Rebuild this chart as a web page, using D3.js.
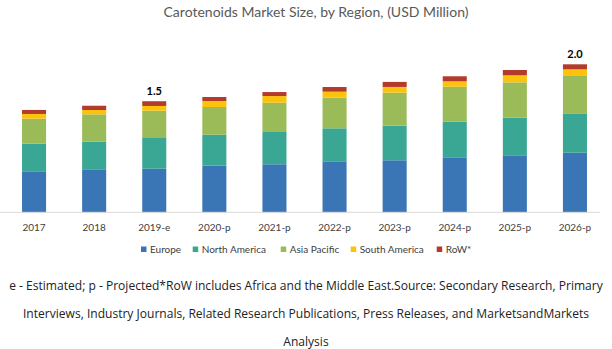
<!DOCTYPE html>
<html><head><meta charset="utf-8">
<script src="https://cdn.jsdelivr.net/npm/d3@7"></script>
<style>body{margin:0;background:#fff}svg{display:block}</style>
</head><body><svg id="c" width="612" height="349"></svg>
<script>
const categories = ["2017","2018","2019-e","2020-p","2021-p","2022-p","2023-p","2024-p","2025-p","2026-p"];
const seriesNames = ["Europe","North America","Asia Pacific","South America","RoW*"];
const europe       = [0.554,0.581,0.589,0.630,0.649,0.689,0.703,0.743,0.770,0.805];
const northAmerica = [0.373,0.373,0.415,0.419,0.446,0.446,0.468,0.481,0.508,0.532];
const asiaPacific  = [0.338,0.370,0.369,0.374,0.386,0.414,0.446,0.473,0.478,0.514];
const southAmerica = [0.064,0.058,0.064,0.081,0.090,0.081,0.077,0.073,0.095,0.081];
const row          = [0.054,0.058,0.064,0.054,0.054,0.063,0.068,0.068,0.072,0.068];
const totalLabels = [{cat:"2019-e", text:"1.5"},{cat:"2026-p", text:"2.0"}];
const colors = ["#3a76b5","#3aa794","#9bbb59","#fcc20c","#b33b2b"];
const footnote = ["e - Estimated; p - Projected*RoW includes Africa and the Middle East.Source: Secondary Research, Primary",
  "Interviews, Industry Journals, Related Research Publications, Press Releases, and MarketsandMarkets",
  "Analysis"];

const svg = d3.select("#c");
const seriesVals = [europe, northAmerica, asiaPacific, southAmerica, row];
const data = categories.map((c,i)=>{const o={cat:c}; seriesNames.forEach((s,j)=>o[s]=seriesVals[j][i]); return o;});
const stack = d3.stack().keys(seriesNames)(data);

const x = d3.scaleBand().domain(categories).range([4,605]).paddingInner(0.6).paddingOuter(0.3);
const y = d3.scaleLinear().domain([0,2]).range([212.3,64.3]);

svg.append("text").attr("x",316).attr("y",16.5).attr("text-anchor","middle")
  .attr("font-family","Lato, sans-serif").attr("font-size",14).attr("fill","#595959")
  .text("Carotenoids Market Size, by Region, (USD Million)");

svg.append("g").selectAll("g").data(stack).join("g").attr("fill",(d,i)=>colors[i])
  .selectAll("rect").data(d=>d).join("rect")
  .attr("x",d=>x(d.data.cat)).attr("width",x.bandwidth())
  .attr("y",d=>y(d[1])).attr("height",d=>y(d[0])-y(d[1]));

const ax = svg.append("g").attr("transform","translate(0,212.3)")
  .call(d3.axisBottom(x).tickSize(0).tickPadding(12));
ax.select(".domain").attr("stroke","#d9d9d9").attr("d","M0,0H600");
ax.selectAll("text").attr("font-family","Lato, sans-serif").attr("font-size",10).attr("fill","#404040");

const last = stack[stack.length-1];
svg.append("g").selectAll("text").data(totalLabels).join("text")
  .attr("x",d=>x(d.cat)+x.bandwidth()/2)
  .attr("y",d=>{const i=categories.indexOf(d.cat); return y(last[i][1])-6;})
  .attr("text-anchor","middle").attr("font-family","Lato, sans-serif").attr("font-weight","bold")
  .attr("font-size",11).attr("fill","#000").text(d=>d.text);

const legX = [141,192.7,280.7,350.7,436.7];
const lg = svg.append("g").selectAll("g").data(seriesNames).join("g")
  .attr("transform",(d,i)=>`translate(${legX[i]},245)`);
lg.append("rect").attr("width",5.5).attr("height",5.5).attr("y",1.5).attr("fill",(d,i)=>colors[i]);
lg.append("text").attr("x",9).attr("y",7.8).attr("font-family","Lato, sans-serif").attr("font-size",10)
  .attr("fill","#404040").text(d=>d);

const fn = svg.append("g").selectAll("text").data(footnote).join("text")
  .attr("x",306).attr("y",(d,i)=>[290,318,346][i]).attr("text-anchor","middle")
  .attr("font-family","'Open Sans', sans-serif").attr("font-size",12).attr("fill","#222").text(d=>d);
const w0 = fn.node().getComputedTextLength();
fn.attr("font-size", 12*594/w0);
</script></body></html>
